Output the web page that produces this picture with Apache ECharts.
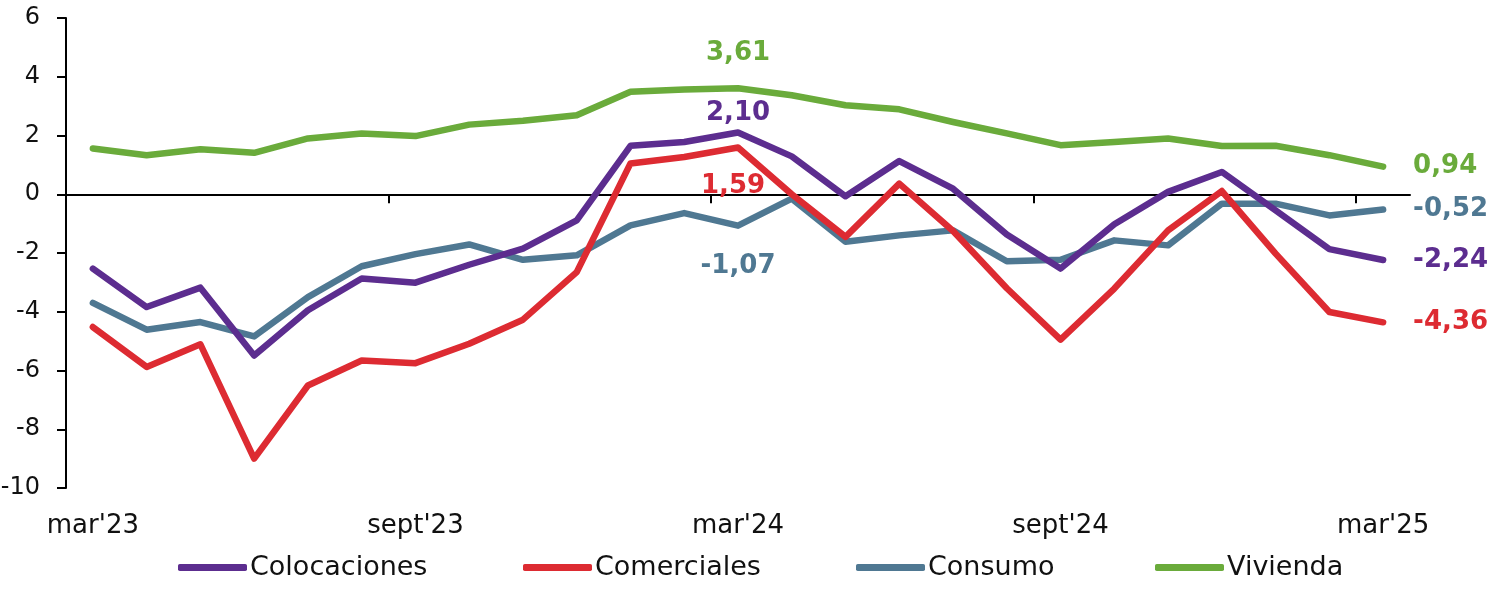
<!DOCTYPE html>
<html>
<head>
<meta charset="utf-8">
<script src="https://cdn.jsdelivr.net/npm/echarts@6/dist/echarts.min.js"></script>
<style>
html,body{margin:0;padding:0;background:#fff;}
#chart{width:1500px;height:595px;}
</style>
</head>
<body>
<div id="chart"></div>
<script>
const categories = ["mar'23","abr'23","may'23","jun'23","jul'23","ago'23","sept'23","oct'23","nov'23","dic'23","ene'24","feb'24","mar'24","abr'24","may'24","jun'24","jul'24","ago'24","sept'24","oct'24","nov'24","dic'24","ene'25","feb'25","mar'25"];
const colocaciones = [-2.53,-3.84,-3.18,-5.49,-3.95,-2.87,-3.01,-2.40,-1.85,-0.89,1.65,1.78,2.10,1.29,-0.07,1.13,0.19,-1.37,-2.53,-1.02,0.08,0.76,-0.55,-1.87,-2.24];
const comerciales = [-4.52,-5.88,-5.11,-9.00,-6.51,-5.66,-5.75,-5.09,-4.27,-2.65,1.05,1.27,1.59,0.00,-1.45,0.36,-1.25,-3.20,-4.95,-3.21,-1.23,0.11,-2.02,-4.01,-4.36];
const consumo = [-3.70,-4.61,-4.35,-4.84,-3.50,-2.45,-2.04,-1.71,-2.23,-2.08,-1.06,-0.64,-1.07,-0.15,-1.62,-1.40,-1.23,-2.28,-2.23,-1.57,-1.74,-0.32,-0.32,-0.72,-0.52];
const vivienda = [1.56,1.33,1.53,1.41,1.90,2.07,1.98,2.37,2.50,2.69,3.49,3.57,3.61,3.37,3.03,2.89,2.46,2.07,1.67,1.78,1.90,1.64,1.65,1.33,0.94];
const yTicks = [-10,-8,-6,-4,-2,0,2,4,6];
// category boundaries where the zero-line ticks sit (between months)
const xTickBoundaries = [-0.5, 5.5, 11.5, 17.5, 23.5];

const colors = {
  Colocaciones: '#5C2D8F',
  Comerciales: '#DD2B32',
  Consumo: '#4F7892',
  Vivienda: '#6AAB3B'
};

const fmt = v => v.toFixed(2).replace('.', ',');
const labelFont = {fontFamily: 'DejaVu Sans', fontSize: 26, fontWeight: 'bold'};

function buildData(values, name, midLabel) {
  return values.map((v, i) => {
    if (i === 12) {
      return {value: v, label: Object.assign({show: true, color: colors[name], formatter: fmt(v)}, labelFont, midLabel)};
    }
    if (i === values.length - 1) {
      return {value: v, label: Object.assign({show: true, color: colors[name], formatter: fmt(v), position: 'right', distance: 30}, labelFont)};
    }
    return v;
  });
}

function mkSeries(name, values, midLabel, z) {
  return {
    name: name,
    type: 'line',
    xAxisIndex: 1,
    data: buildData(values, name, midLabel),
    symbol: 'circle',
    symbolSize: 0,
    showSymbol: true,
    showAllSymbol: true,
    z: z,
    lineStyle: {width: 6.5, color: colors[name], cap: 'round', join: 'round'},
    itemStyle: {color: colors[name]},
    label: {show: false},
    emphasis: {disabled: true},
    animation: false
  };
}

const legendLefts = [178, 523, 856, 1155];
const names = ['Colocaciones','Comerciales','Consumo','Vivienda'];

const chart = echarts.init(document.getElementById('chart'), null, {renderer: 'canvas'});
chart.setOption({
  animation: false,
  backgroundColor: '#fff',
  grid: {left: 66, right: 90, top: 18, bottom: 107, containLabel: false, outerBoundsMode: 'none'},
  legend: names.map((n, k) => ({
    data: [n],
    left: legendLefts[k],
    top: 554,
    padding: 0,
    itemWidth: 69,
    itemHeight: 7,
    itemGap: 3,
    icon: 'roundRect',
    textStyle: {fontFamily: 'DejaVu Sans', fontSize: 27, color: '#111', padding: [0, 0, 0, -2]},
    selectedMode: false
  })),
  xAxis: [
    {
      type: 'value',
      min: -0.5,
      max: categories.length - 0.5,
      axisLine: {onZero: true, lineStyle: {color: '#000', width: 2}},
      axisTick: {show: true, customValues: xTickBoundaries, length: 9, lineStyle: {color: '#000', width: 2}},
      axisLabel: {show: false},
      splitLine: {show: false}
    },
    {
      type: 'category',
      data: categories,
      position: 'bottom',
      boundaryGap: true,
      axisLine: {show: false, onZero: false},
      axisTick: {show: false},
      axisLabel: {
        show: true,
        interval: (i) => i % 6 === 0,
        margin: 25,
        fontFamily: 'DejaVu Sans',
        fontSize: 26,
        color: '#111'
      },
      splitLine: {show: false}
    }
  ],
  yAxis: {
    type: 'value',
    min: yTicks[0],
    max: yTicks[yTicks.length - 1],
    interval: 2,
    axisLine: {show: true, onZero: false, lineStyle: {color: '#000', width: 2}},
    axisTick: {show: true, length: 9, lineStyle: {color: '#000', width: 2}},
    axisLabel: {fontFamily: 'DejaVu Sans', fontSize: 24, color: '#111', margin: 26},
    splitLine: {show: false}
  },
  series: [
    mkSeries('Vivienda', vivienda, {position: 'top', distance: 22}, 2),
    mkSeries('Consumo', consumo, {position: 'bottom', distance: 28}, 3),
    mkSeries('Comerciales', comerciales, {position: 'bottom', distance: 26, offset: [-5, 0]}, 4),
    mkSeries('Colocaciones', colocaciones, {position: 'top', distance: 6}, 5)
  ]
});
</script>
</body>
</html>
